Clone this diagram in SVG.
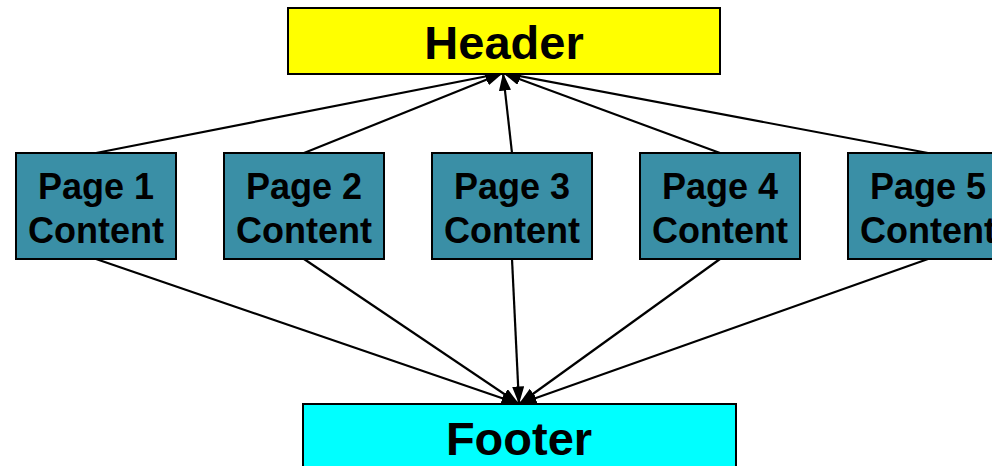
<svg xmlns="http://www.w3.org/2000/svg" width="992" height="466" viewBox="0 0 992 466">
<defs>
<marker id="ah" viewBox="0 0 16 11" refX="16" refY="5.5" markerWidth="8" markerHeight="5.5" markerUnits="strokeWidth" orient="auto">
<path d="M0,0 L16,5.5 L0,11 z" fill="#000"/>
</marker>
<style>
.box{stroke:#000;stroke-width:2}
.page{fill:#3A8FA6}
.t{font-family:"Liberation Sans",Arial,sans-serif;font-weight:bold;fill:#000;text-anchor:middle}
.pt{font-size:36px}
.big{font-size:47px}
.c{stroke:#000;stroke-width:2.2;fill:none;marker-end:url(#ah)}
</style>
</defs>
<rect width="992" height="466" fill="#fff"/>
<g id="connectors">
<line class="c" x1="96" y1="153" x2="503" y2="73"/>
<line class="c" x1="304" y1="153" x2="503" y2="73"/>
<line class="c" x1="512" y1="153" x2="503" y2="73"/>
<line class="c" x1="720" y1="153" x2="503" y2="73"/>
<line class="c" x1="928" y1="153" x2="503" y2="73"/>
<line class="c" x1="96" y1="259" x2="519" y2="404"/>
<line class="c" x1="304" y1="259" x2="519" y2="404"/>
<line class="c" x1="512" y1="259" x2="519" y2="404"/>
<line class="c" x1="720" y1="259" x2="519" y2="404"/>
<line class="c" x1="928" y1="259" x2="519" y2="404"/>
</g>
<g id="header">
<rect class="box" x="288" y="8" width="432" height="66" fill="#FFFF00"/>
<text class="t big" x="504" y="59">Header</text>
</g>
<g id="page1">
<rect class="box page" x="16" y="153" width="160" height="106"/>
<text class="t pt" x="96" y="199">Page 1</text>
<text class="t pt" x="96" y="243">Content</text>
</g>
<g id="page2">
<rect class="box page" x="224" y="153" width="160" height="106"/>
<text class="t pt" x="304" y="199">Page 2</text>
<text class="t pt" x="304" y="243">Content</text>
</g>
<g id="page3">
<rect class="box page" x="432" y="153" width="160" height="106"/>
<text class="t pt" x="512" y="199">Page 3</text>
<text class="t pt" x="512" y="243">Content</text>
</g>
<g id="page4">
<rect class="box page" x="640" y="153" width="160" height="106"/>
<text class="t pt" x="720" y="199">Page 4</text>
<text class="t pt" x="720" y="243">Content</text>
</g>
<g id="page5">
<rect class="box page" x="848" y="153" width="160" height="106"/>
<text class="t pt" x="928" y="199">Page 5</text>
<text class="t pt" x="928" y="243">Content</text>
</g>
<g id="footer">
<rect class="box" x="303" y="404" width="433" height="80" fill="#00FFFF"/>
<text class="t big" x="519" y="455">Footer</text>
</g>
</svg>
